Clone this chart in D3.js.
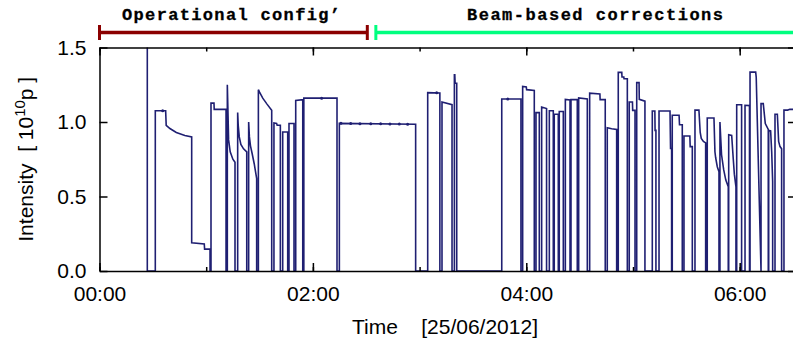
<!DOCTYPE html>
<html>
<head>
<meta charset="utf-8">
<script src="https://cdn.jsdelivr.net/npm/d3@7"></script>
<style>
  html, body { margin: 0; padding: 0; background: #fff; }
  svg { display: block; font-family: 'Liberation Sans', Arial, sans-serif; }
  .axis text { font-size: 21px; fill: #000; }
  .axis line, .axis path { stroke: #000; stroke-width: 1.5; }
</style>
</head>
<body>
<div id="chart"></div>
<script>
// time in hours after 00:00 on 25/06/2012, intensity in 1e10 p
// each pulse is the top profile of one fill: [hour, intensity]
const pulses = [
  [[0.448, 1.6], [0.448, 1.6]],
  [[0.523, 1.076], [0.62, 1.076], [0.625, 0.978], [0.66, 0.956], [0.72, 0.93], [0.80, 0.91], [0.864, 0.90],
   [0.864, 0.19], [0.982, 0.182], [0.985, 0.147], [1.036, 0.147]],
  [[1.045, 1.127], [1.073, 1.127], [1.075, 1.085], [1.186, 1.085]],
  [[1.198, 1.25], [1.203, 1.1], [1.21, 0.88], [1.225, 0.80], [1.25, 0.75], [1.27, 0.73]],
  [[1.295, 1.063], [1.30, 0.98], [1.31, 0.90], [1.325, 0.85], [1.35, 0.82], [1.38, 0.80]],
  [[1.398, 1.0], [1.405, 0.90], [1.415, 0.84], [1.43, 0.79], [1.45, 0.72], [1.473, 0.62]],
  [[1.489, 1.217], [1.50, 1.20], [1.53, 1.16], [1.57, 1.12], [1.614, 1.078]],
  [[1.635, 0.993], [1.66, 0.99], [1.665, 0.978], [1.695, 0.978]],
  [[1.717, 0.933], [1.764, 0.933]],
  [[1.776, 0.99], [1.823, 0.99]],
  [[1.839, 1.145], [1.905, 1.15]],
  [[1.915, 1.16], [2.226, 1.16]],
  [[2.248, 0.991], [2.963, 0.985]],
  [[3.076, 1.197], [3.19, 1.195]],
  [[3.21, 1.134], [3.304, 1.116]],
  [[3.326, 1.317], [3.33, 1.317], [3.333, 1.26], [3.348, 1.26]],
  [[3.77, 1.154], [3.95, 1.154]],
  [[3.966, 1.239], [4.0, 1.235], [4.003, 1.217], [4.075, 1.212]],
  [[4.091, 1.063], [4.122, 1.063]],
  [[4.144, 1.1], [4.19, 1.09]],
  [[4.216, 1.076], [4.253, 1.076]],
  [[4.262, 1.052], [4.30, 1.052]],
  [[4.309, 1.07], [4.347, 1.07]],
  [[4.366, 1.152], [4.41, 1.148]],
  [[4.419, 1.15], [4.478, 1.15]],
  [[4.491, 1.161], [4.572, 1.155]],
  [[4.594, 1.194], [4.69, 1.188], [4.692, 1.15], [4.74, 1.15]],
  [[4.759, 0.962], [4.80, 0.955], [4.847, 0.95]],
  [[4.862, 1.333], [4.895, 1.333], [4.897, 1.302], [4.914, 1.302], [4.916, 1.29], [4.947, 1.29]],
  [[4.965, 1.134], [4.995, 1.134], [4.997, 1.078], [5.019, 1.078]],
  [[5.035, 1.264], [5.057, 1.264], [5.059, 1.152], [5.112, 1.14]],
  [[5.181, 1.074], [5.205, 1.074], [5.207, 0.944], [5.215, 0.944]],
  [[5.244, 1.074], [5.347, 1.074], [5.352, 0.822], [5.362, 0.822]],
  [[5.368, 1.045], [5.432, 1.045], [5.436, 0.982], [5.462, 0.982]],
  [[5.478, 0.906], [5.533, 0.906], [5.536, 0.835], [5.556, 0.835]],
  [[5.581, 1.08], [5.618, 1.08], [5.63, 0.93], [5.64, 0.89], [5.66, 0.87], [5.681, 0.86]],
  [[5.696, 1.027], [5.759, 1.027], [5.768, 0.80], [5.775, 0.76], [5.79, 0.70], [5.806, 0.666]],
  [[5.815, 1.0], [5.83, 0.78], [5.85, 0.68], [5.87, 0.61], [5.893, 0.565]],
  [[5.897, 0.915], [5.925, 0.91], [5.94, 0.75], [5.95, 0.65], [5.965, 0.565]],
  [[5.972, 1.116], [6.018, 1.116]],
  [[6.05, 1.112], [6.092, 1.11]],
  [[6.097, 1.335], [6.15, 1.335], [6.155, 1.30], [6.20, 0.0]],
  [[6.20, 1.123], [6.221, 1.123], [6.24, 0.99], [6.268, 0.95]],
  [[6.272, 0.944], [6.29, 0.94], [6.30, 0.80], [6.309, 0.60]],
  [[6.331, 1.052], [6.353, 1.052], [6.365, 0.87], [6.378, 0.835], [6.393, 0.82]],
  [[6.415, 1.08], [6.45, 1.08], [6.47, 1.085], [6.60, 1.085]]
];

// sampled points drawn as tiny dots on the flat parts
const markers = [
  [0.592, 1.076], [2.082, 1.16],
  [2.263, 0.991], [2.354, 0.99], [2.441, 0.989], [2.542, 0.988], [2.635, 0.988], [2.722, 0.987], [2.81, 0.986], [2.888, 0.985],
  [3.16, 1.197], [3.826, 1.154]
];

const yTicks = [0, 0.5, 1.0, 1.5];
const periods = [
  {label: 'Operational config\u2019', from: 0, to: 2.51, color: '#8b0000'},
  {label: 'Beam-based corrections', from: 2.59, to: 6.6, color: '#00ff7f'}
];

const day = new Date(2012, 5, 25, 0, 0, 0);
const toDate = (h) => new Date(day.getTime() + h * 3600e3);

class IntensityChart {
  constructor(el) {
    this.el = el;
    this.width = 793;
    this.height = 339;
    this.margin = {top: 47.5, right: -3, bottom: 68, left: 99.5};
    this.plotW = this.width - this.margin.left - this.margin.right;
    this.plotH = this.height - this.margin.top - this.margin.bottom;
  }

  render() {
    this.svg = d3.select(this.el).append('svg')
        .attr('width', this.width)
        .attr('height', this.height);

    this.x = d3.scaleTime()
        .domain([toDate(0), toDate(6.5278)])
        .range([this.margin.left, this.margin.left + this.plotW]);
    this.y = d3.scaleLinear()
        .domain([0, 1.5])
        .range([this.margin.top + this.plotH, this.margin.top]);

    this.svg.append('defs').append('clipPath')
        .attr('id', 'plot-clip')
      .append('rect')
        .attr('x', this.margin.left)
        .attr('y', this.margin.top)
        .attr('width', this.plotW)
        .attr('height', this.plotH);

    this.drawData();
    this.drawAxes();
    this.drawPeriods();
    this.drawLabels();
  }

  drawData() {
    // walk every fill: up from zero, along its top, back down to zero
    const pts = [];
    pulses.forEach(p => {
      pts.push([p[0][0], 0]);
      p.forEach(d => pts.push(d));
      pts.push([p[p.length - 1][0], 0]);
    });

    const line = d3.line()
        .x(d => this.x(toDate(d[0])))
        .y(d => this.y(d[1]));

    const g = this.svg.append('g').attr('clip-path', 'url(#plot-clip)');
    g.append('path')
        .datum(pts)
        .attr('d', line)
        .attr('fill', 'none')
        .attr('stroke', '#1f1f72')
        .attr('stroke-width', 1.6)
        .attr('stroke-linejoin', 'miter');

    g.selectAll('circle')
        .data(markers)
      .enter().append('circle')
        .attr('cx', d => this.x(toDate(d[0])))
        .attr('cy', d => this.y(d[1]))
        .attr('r', 1.5)
        .attr('fill', '#1f1f72');
  }

  drawAxes() {
    const bottom = this.margin.top + this.plotH;
    const right = this.margin.left + this.plotW;
    const fmt = d3.timeFormat('%H:%M');

    // hourly short ticks, bottom and top
    this.svg.append('g')
        .attr('class', 'axis')
        .attr('transform', `translate(0,${bottom})`)
        .call(d3.axisBottom(this.x).ticks(d3.timeHour.every(1)).tickSize(-4).tickFormat(''))
        .call(g => g.select('.domain').remove());
    this.svg.append('g')
        .attr('class', 'axis')
        .attr('transform', `translate(0,${this.margin.top})`)
        .call(d3.axisTop(this.x).ticks(d3.timeHour.every(1)).tickSize(-4).tickFormat(''))
        .call(g => g.select('.domain').remove());

    // labelled ticks every two hours
    this.svg.append('g')
        .attr('class', 'axis')
        .attr('transform', `translate(0,${bottom})`)
        .call(d3.axisBottom(this.x).ticks(d3.timeHour.every(2)).tickSizeInner(-8).tickSizeOuter(0)
          .tickPadding(15).tickFormat(fmt));
    this.svg.append('g')
        .attr('class', 'axis')
        .attr('transform', `translate(0,${this.margin.top})`)
        .call(d3.axisTop(this.x).ticks(d3.timeHour.every(2)).tickSizeInner(-8).tickSizeOuter(0).tickFormat(''));

    this.svg.append('g')
        .attr('class', 'axis')
        .attr('transform', `translate(${this.margin.left},0)`)
        .call(d3.axisLeft(this.y).tickValues(yTicks).tickSizeInner(-8).tickSizeOuter(0)
          .tickPadding(13).tickFormat(d3.format('.1f')));
    this.svg.append('g')
        .attr('class', 'axis')
        .attr('transform', `translate(${right},0)`)
        .call(d3.axisRight(this.y).tickValues(yTicks).tickSizeInner(-8).tickSizeOuter(0).tickFormat(''));
  }

  drawPeriods() {
    const yLine = 32.5;
    const g = this.svg.append('g');
    periods.forEach(p => {
      const x0 = this.x(toDate(p.from));
      const x1 = this.x(toDate(p.to));
      g.append('line')
          .attr('x1', x0).attr('x2', x1)
          .attr('y1', yLine).attr('y2', yLine)
          .attr('stroke', p.color)
          .attr('stroke-width', 3.5);
      [x0, x1].forEach(xc => {
        g.append('line')
            .attr('x1', xc).attr('x2', xc)
            .attr('y1', yLine - 7.5).attr('y2', yLine + 7.5)
            .attr('stroke', p.color)
            .attr('stroke-width', 3);
      });
    });

    const labelPos = [[122, 218], [467, 256]];
    periods.forEach((p, i) => {
      g.append('text')
          .attr('x', labelPos[i][0]).attr('y', 20)
          .attr('textLength', labelPos[i][1])
          .attr('lengthAdjust', 'spacing')
          .style('font-family', "'Liberation Mono', 'Courier New', monospace")
          .style('font-weight', 'bold')
          .style('font-size', '17px')
          .style('stroke', '#000')
          .style('stroke-width', 0.3)
          .text(p.label);
    });
  }

  drawLabels() {
    this.svg.append('text')
        .attr('x', 445)
        .attr('y', 334)
        .attr('text-anchor', 'middle')
        .style('font-size', '21px')
        .style('white-space', 'pre')
        .text('Time    [25/06/2012]');

    const yl = this.svg.append('text')
        .attr('transform', `translate(33,${this.margin.top + this.plotH / 2}) rotate(-90)`)
        .attr('text-anchor', 'middle')
        .style('font-size', '21px')
        .style('white-space', 'pre');
    yl.append('tspan').text('Intensity  [ 10');
    yl.append('tspan').attr('dy', -8).style('font-size', '15px').text('10');
    yl.append('tspan').attr('dy', 8).text('p ]');
  }
}

new IntensityChart('#chart').render();
</script>
</body>
</html>
